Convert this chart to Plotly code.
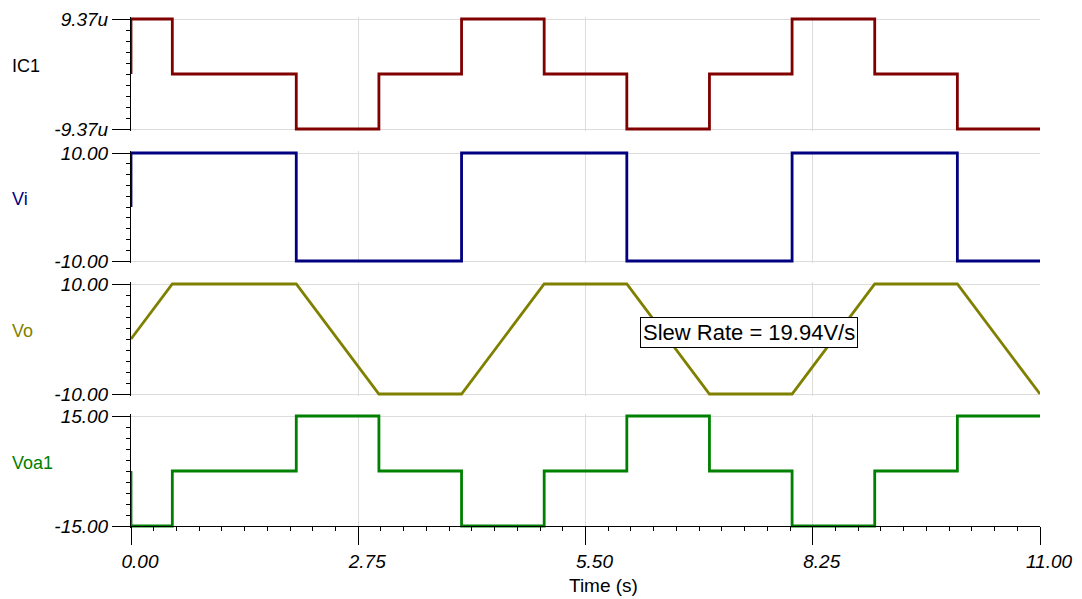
import plotly.graph_objects as go

# ---------------- data ----------------
time_ic1 = [0, 0, 0.5, 2, 3, 4, 5, 6, 7, 8, 9, 10, 11]
ic1 = [0, 9.37e-6, 0, -9.37e-6, 0, 9.37e-6, 0, -9.37e-6, 0, 9.37e-6, 0, -9.37e-6, -9.37e-6]

time_vi = [0, 0, 2, 4, 6, 8, 10, 11]
vi = [0, 10, -10, 10, -10, 10, -10, -10]

time_vo = [0, 0.5, 2, 3, 4, 5, 6, 7, 8, 9, 10, 11]
vo = [0, 10, 10, -10, -10, 10, 10, -10, -10, 10, 10, -10]

time_voa1 = [0, 0, 0.5, 2, 3, 4, 5, 6, 7, 8, 9, 10, 11]
voa1 = [0, -15, 0, 15, 0, -15, 0, 15, 0, -15, 0, 15, 15]

x_ticks = [0, 2.75, 5.5, 8.25, 11]
x_tick_text = ["0.00", "2.75", "5.50", "8.25", "11.00"]
x_title = "Time (s)"

names = ["IC1", "Vi", "Vo", "Voa1"]
y_ranges = [[-9.37e-6, 9.37e-6], [-10, 10], [-10, 10], [-15, 15]]
y_tick_text = [["-9.37u", "9.37u"], ["-10.00", "10.00"], ["-10.00", "10.00"], ["-15.00", "15.00"]]
colors = ["#800000", "#000080", "#808000", "#008000"]
label_colors = ["#000000", "#000080", "#808000", "#008000"]
slew_label = "Slew Rate = 19.94V/s"
slew_pos = (7.48, 1.1)

# ---------------- layout constants ----------------
# the page body has an 8px default margin, so the figure is sized/margined to compensate
FONT = "Liberation Sans, Arial, Helvetica, sans-serif"
GRID = "#dcdcdc"
PAD = 2  # px of room above/below each panel so edge lines are not clipped
plot_top, plot_bot = 17, 528          # viewport px of plot area
panel_px = [(19, 129), (153, 261), (284, 394), (416, 526)]  # top / bottom of each panel (value extent)
H = plot_bot - plot_top

def frac(y):
    return (plot_bot - y) / H

fig = go.Figure()
series = [(time_ic1, ic1, "hv"), (time_vi, vi, "hv"), (time_vo, vo, "linear"), (time_voa1, voa1, "hv")]
for i, (t, v, shape) in enumerate(series):
    n = "" if i == 0 else str(i + 1)
    fig.add_trace(go.Scatter(x=t, y=v, mode="lines", line=dict(color=colors[i], width=2.8, shape=shape),
                             xaxis="x" + n, yaxis="y" + n, showlegend=False, name=names[i]))

layout = dict(
    width=1074, height=591,
    margin=dict(l=123, r=42, t=plot_top - 8, b=591 + 8 - plot_bot, autoexpand=False),
    paper_bgcolor="white", plot_bgcolor="white",
    font=dict(family=FONT, color="black", size=18),
    showlegend=False,
)

tick_font = dict(family=FONT, size=19, color="black", style="italic")

for i in range(4):
    n = "" if i == 0 else str(i + 1)
    k = i + 1
    lo, hi = y_ranges[i]
    top_px, bot_px = panel_px[i]
    span_px = bot_px - top_px
    pad_val = (hi - lo) * PAD / span_px
    rng = [lo - pad_val, hi + pad_val]
    dom = [max(0.0, frac(bot_px + PAD)), min(1.0, frac(top_px - PAD))]
    bottom = (i == 3)
    xa = dict(
        domain=[0, 1], range=[0, 11], automargin=False,
        tickmode="array", tickvals=x_ticks, ticktext=x_tick_text,
        showgrid=True, gridcolor=GRID, gridwidth=1, zeroline=False,
        showline=bottom, linecolor="black", linewidth=1,
        ticks="outside" if bottom else "", ticklen=18, tickcolor="black", tickwidth=1,
        showticklabels=bottom, tickfont=tick_font,
    )
    if bottom:
        xa["anchor"] = "free"
        xa["position"] = frac(bot_px)
        xa["ticklabelshift"] = 9
        xa["minor"] = dict(tickmode="linear", tick0=0, dtick=0.275, ticks="outside", ticklen=4,
                           tickcolor="black", tickwidth=1, showgrid=False)
    else:
        xa["anchor"] = "y" + n
        xa["matches"] = "x4"
    layout["xaxis" + n] = xa

    ya = dict(
        domain=dom, anchor="x" + n, range=rng, automargin=False,
        tickmode="array", tickvals=[lo, hi], ticktext=y_tick_text[i],
        showgrid=True, gridcolor=GRID, gridwidth=1, zeroline=False,
        showline=True, linecolor="black", linewidth=1,
        ticks="outside", ticklen=18, tickcolor="black", tickwidth=1,
        tickfont=tick_font,
        minor=dict(tickmode="linear", tick0=lo, dtick=(hi - lo) / 10, ticks="outside", ticklen=4,
                   tickcolor="black", tickwidth=1, showgrid=False),
    )
    layout["yaxis" + n] = ya

    # overlay axis for the mid-range tick
    layout["yaxis" + str(k + 4)] = dict(
        overlaying="y" + n, anchor="x" + n, side="left", range=rng, automargin=False,
        tickmode="array", tickvals=[(lo + hi) / 2], ticks="outside", ticklen=9,
        tickcolor="black", tickwidth=1, showticklabels=False, showgrid=False,
        showline=False, zeroline=False,
    )

# overlay axis for the half-interval x ticks
mid_ticks = [(a + b) / 2 for a, b in zip(x_ticks[:-1], x_ticks[1:])]
layout["xaxis5"] = dict(
    overlaying="x4", anchor="free", position=frac(panel_px[3][1]), side="bottom", range=[0, 11],
    automargin=False, tickmode="array", tickvals=mid_ticks, ticks="outside", ticklen=9,
    tickcolor="black", tickwidth=1, showticklabels=False, showgrid=False,
    showline=False, zeroline=False,
)

annotations = []
for i in range(4):
    n = "" if i == 0 else str(i + 1)
    annotations.append(dict(
        text=names[i], xref="paper", x=0, xanchor="left", xshift=-121,
        yref="y" + n + " domain", y=0.5, yanchor="middle", yshift=8, showarrow=False,
        font=dict(family=FONT, size=18, color=label_colors[i]),
    ))
annotations.append(dict(
    text=x_title, xref="paper", x=0.5, xanchor="center", xshift=18,
    yref="paper", y=0, yanchor="middle", yshift=-(585 - plot_bot), showarrow=False,
    font=dict(family=FONT, size=19, color="black"),
))
annotations.append(dict(
    text=slew_label, xref="x3", yref="y3", x=slew_pos[0], y=slew_pos[1],
    showarrow=False, bgcolor="white", bordercolor="black", borderwidth=1, borderpad=2,
    font=dict(family=FONT, size=22, color="black"),
))
layout["annotations"] = annotations

fig.update_layout(**layout)
fig.write_html("out.html")
